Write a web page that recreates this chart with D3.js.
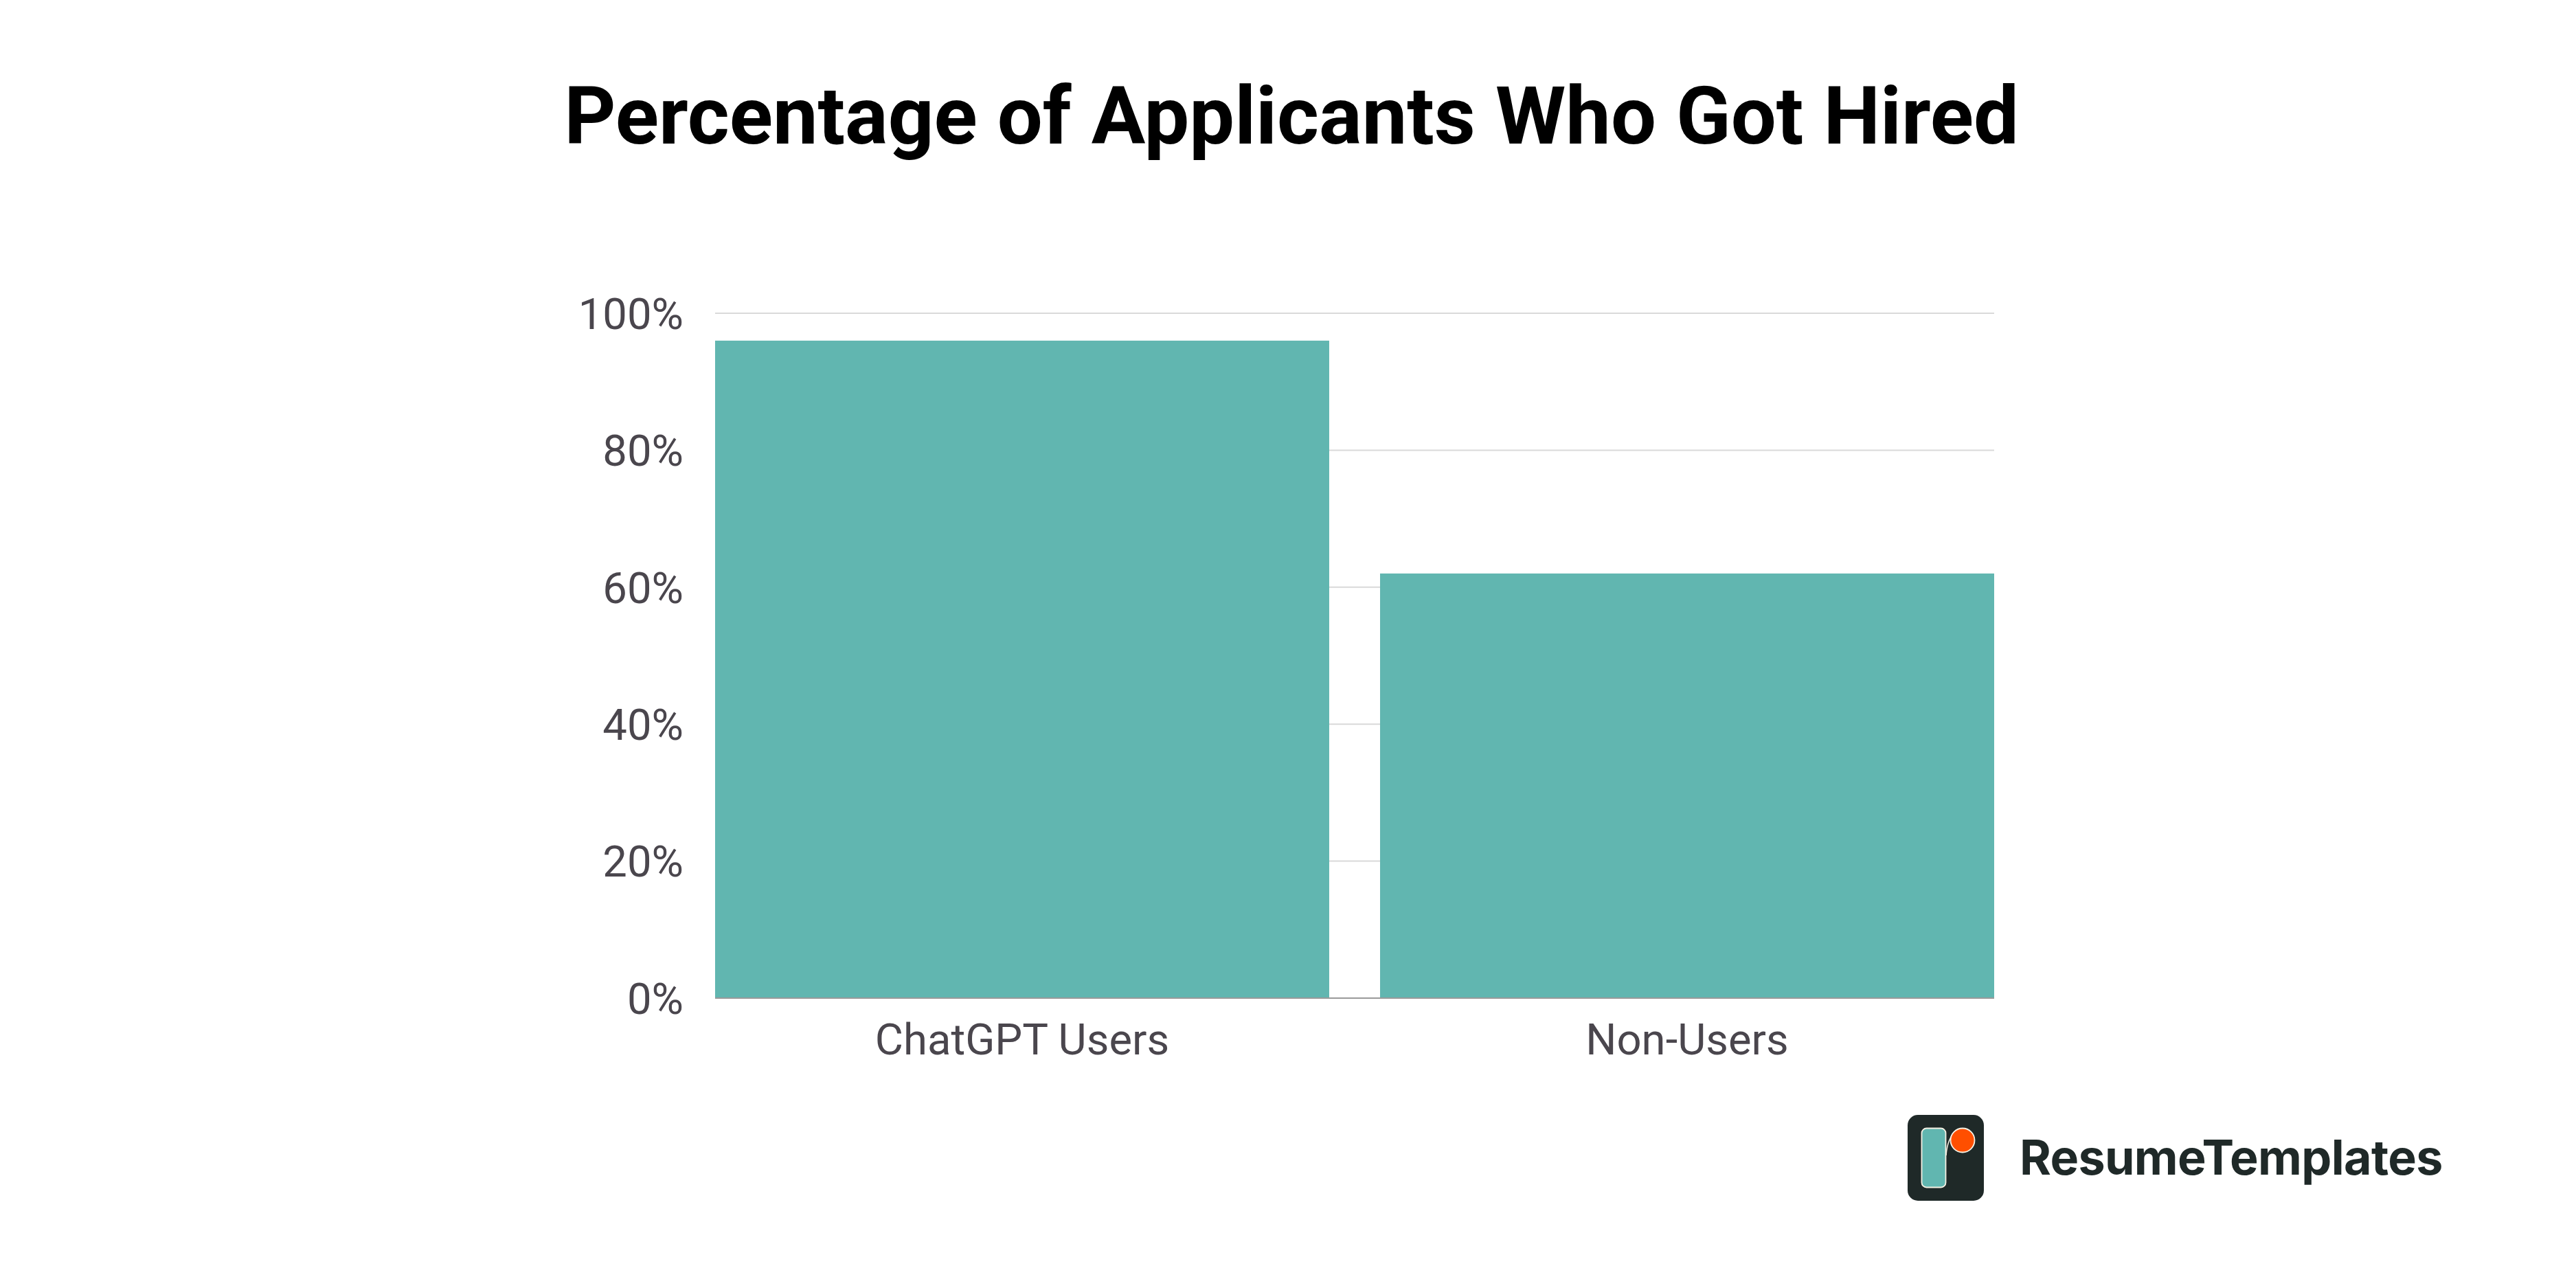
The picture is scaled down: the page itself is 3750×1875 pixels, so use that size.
<!DOCTYPE html>
<meta charset="utf-8">

<style>
  html, body {
    margin: 0;
    background: #fff;
  }
  svg {
    display: block;
  }
  .tick text {
    font-family: Roboto, sans-serif;
    font-size: 63.4px;
    fill: #4a464d;
  }
</style>
<body>
<div id="chart"></div>
<script src="https://d3js.org/d3.v7.min.js"></script>
<script>

  const categories = ["ChatGPT Users", "Non-Users"];
  const hiredPct = [96, 62];
  const yTicks = [0, 20, 40, 60, 80, 100];
  const titleText = "Percentage of Applicants Who Got Hired";
  const brandText = "ResumeTemplates";

  const width = 3750;
  const height = 1875;
  const margin = {top: 456, right: 847, bottom: 422, left: 1041};

  const svg = d3.select("#chart").append("svg")
    .attr("width", width)
    .attr("height", height);

  const x = d3.scaleBand()
    .domain(categories)
    .range([margin.left, width - margin.right])
    .paddingInner(0.0765);

  const y = d3.scaleLinear()
    .domain([0, 100])
    .range([height - margin.bottom, margin.top]);

  // title
  svg.append("text")
    .attr("x", 1880)
    .attr("y", 208.5)
    .attr("text-anchor", "middle")
    .style("font-family", "Roboto, sans-serif")
    .style("font-weight", 700)
    .style("font-size", "117px")
    .style("fill", "#000")
    .text(titleText);

  // y axis with gridlines, drawn under the bars
  const yAxis = svg.append("g")
    .attr("transform", `translate(${margin.left},0)`)
    .call(d3.axisLeft(y)
      .offset(0)
      .tickValues(yTicks)
      .tickFormat((d) => d + "%")
      .tickSize(-(width - margin.left - margin.right))
      .tickPadding(46));
  yAxis.select(".domain").remove();
  yAxis.selectAll(".tick line")
    .attr("stroke", "#d9d9d9")
    .attr("stroke-width", 2);
  yAxis.selectAll(".tick text").attr("dy", "0.36em");

  // bars
  svg.append("g")
    .selectAll("rect")
    .data(hiredPct)
    .join("rect")
    .attr("x", (d, i) => x(categories[i]))
    .attr("y", (d) => y(d))
    .attr("width", x.bandwidth())
    .attr("height", (d) => y(0) - y(d))
    .attr("fill", "#61b6b0");

  // x axis
  const xAxis = svg.append("g")
    .attr("transform", `translate(0,${y(0)})`)
    .call(d3.axisBottom(x).offset(0).tickSize(0).tickPadding(37));
  xAxis.select(".domain")
    .attr("stroke", "#9a9a9a")
    .attr("stroke-width", 2);

  // logo bottom right
  const logo = svg.append("g");
  logo.append("rect")
    .attr("x", 2777).attr("y", 1623)
    .attr("width", 111).attr("height", 125)
    .attr("rx", 15)
    .attr("fill", "#1f2928");
  logo.append("path")
    .attr("d", "M2833 1682 C2834 1668 2838 1654 2848 1645")
    .attr("fill", "none")
    .attr("stroke", "#f6f1e4")
    .attr("stroke-width", 1.5);
  logo.append("rect")
    .attr("x", 2797.5).attr("y", 1642.5)
    .attr("width", 35).attr("height", 86)
    .attr("rx", 7)
    .attr("fill", "#61b6b0")
    .attr("stroke", "#f6f1e4")
    .attr("stroke-width", 1.8);
  logo.append("circle")
    .attr("cx", 2857).attr("cy", 1660).attr("r", 17.5)
    .attr("fill", "#ff4f00")
    .attr("stroke", "#f6f1e4")
    .attr("stroke-width", 1.8);
  logo.append("text")
    .attr("x", 2940)
    .attr("y", 1710)
    .style("font-family", "Inter, sans-serif")
    .style("font-weight", 650)
    .style("font-size", "70px")
    .style("letter-spacing", "-0.7px")
    .style("fill", "#1f2928")
    .text(brandText);

</script>
